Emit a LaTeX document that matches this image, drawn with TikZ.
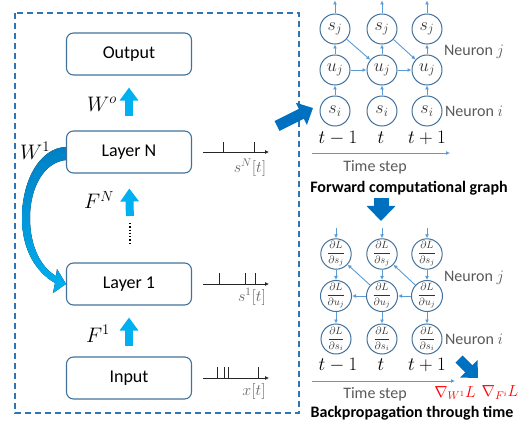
\documentclass[tikz,border=0pt]{standalone}
\usepackage{fix-cm}
\usepackage{amsmath}
\usepackage[no-math]{fontspec}
\setmainfont{Carlito}
\usepackage{tikz}
\usetikzlibrary{arrows.meta, calc}

\definecolor{boxline}{RGB}{65,113,156}
\definecolor{fatcyan}{RGB}{0,176,240}
\definecolor{curvetop}{RGB}{0,128,196}
\definecolor{deepblue}{RGB}{0,112,192}
\definecolor{dashblue}{RGB}{46,117,182}
\definecolor{edgeblue}{RGB}{91,155,213}

\begin{document}
\begin{tikzpicture}[x=1pt, y=-1pt, >={Latex[length=4pt, width=4pt]},
    layer/.style={draw=boxline, line width=1.1pt, rounded corners=7pt, minimum width=125pt, minimum height=42pt, inner sep=0pt, font=\fontsize{18}{20}\selectfont},
    fatarrow/.style={fatcyan, line width=8pt, -{Triangle[width=18pt, length=13pt]}},
    deeparrow/.style={deepblue, -{Triangle[width=24pt, length=13pt]}},
    neuron/.style={circle, draw=boxline, line width=1pt, minimum size=30pt, inner sep=0pt, text=black!80, font=\fontsize{18}{20}\selectfont},
    grad/.style={neuron, font=\fontsize{10.5}{12}\selectfont},
    edge/.style={edgeblue, line width=0.9pt, ->},
    spike/.style={black!85, line width=0.9pt},
    sig/.style={text=black!60, font=\fontsize{16}{18}\selectfont},
    tlabel/.style={font=\fontsize{19}{21}\selectfont},
    neulabel/.style={text=black!65, font=\fontsize{16}{18}\selectfont},
    wlabel/.style={font=\fontsize{21}{23}\selectfont}]
    \useasboundingbox (0,0) rectangle (520,425);

    % 1. Khung nét đứt và các lớp mạng
    \draw[dashblue, line width=1.1pt, dash pattern=on 6pt off 4pt] (15,13) rectangle (299,413);
    \node[layer] (output) at (129,54) {Output};
    \node[layer] (layerN) at (129,152) {Layer N};
    \node[layer] (layer1) at (129,284) {Layer 1};
    \node[layer] (input) at (129,378) {Input};

    % Mũi tên giữa các lớp
    \coordinate (dotstop) at (130,223);
    \coordinate (dotsbot) at (130,246);
    \draw[fatarrow, shorten <=14pt, shorten >=12pt] (layerN.north) -- (output.south);
    \draw[fatarrow, shorten <=7pt, shorten >=15pt] (dotstop) -- (layerN.south);
    \draw[fatarrow, shorten <=10pt, shorten >=12pt] (input.north) -- (layer1.south);
    \draw[dotted, line width=1.3pt] (dotstop) -- (dotsbot);
    \node[wlabel] at (102,104) {$W^o$};
    \node[wlabel] at (99,200) {$F^N$};
    \node[wlabel] at (98,334) {$F^1$};

    % Mũi tên cong W^1 (từ Layer N về Layer 1)
    \fill[top color=curvetop, bottom color=fatcyan]
        ([yshift=5pt]layerN.west) .. controls (40,148) and (22,180) .. (22,218)
        .. controls (22,250) and (36,272) .. (55,283)
        -- (53,293) -- (layer1.west) -- (57,269) -- (56,276)
        .. controls (42,268) and (30,248) .. (30,218)
        .. controls (30,186) and (45,162) .. ([yshift=-8pt]layerN.west) -- cycle;
    \node[wlabel] at (35,151) {$W^1$};

    % 2. Chuỗi xung
    \draw[spike, ->] ([xshift=11pt]layerN.east) -- ++(66,0);
    \foreach \sx in {223,254} \draw[spike] (\sx,152) -- (\sx,142);
    \node[sig] at (250,168) {$s^N[t]$};
    \draw[spike, ->] ([xshift=11pt]layer1.east) -- ++(66,0);
    \foreach \sx in {219,245,255} \draw[spike] (\sx,284) -- (\sx,273);
    \node[sig] at (252,297) {$s^1[t]$};
    \draw[spike, ->] ([xshift=11pt]input.east) -- ++(66,0);
    \foreach \sx in {217,224,228,258} \draw[spike] (\sx,378) -- (\sx,367);
    \node[sig] at (254,391) {$x[t]$};

    % 3. Đồ thị tính toán xuôi
    \foreach \c/\x in {1/335,2/382,3/427} {
        \node[neuron] (fsj\c) at (\x,29) {$s_j$};
        \node[neuron] (fuj\c) at (\x,70) {$u_j$};
        \node[neuron] (fsi\c) at (\x,111) {$s_i$};
        \draw[edge] (fsi\c) -- (fuj\c);
        \draw[edge] (fuj\c) -- (fsj\c);
        \draw[edge] (fsj\c.north) -- ++(0,-13);
    }
    \draw[edge] (fuj1) -- (fuj2);
    \draw[edge] (fuj2) -- (fuj3);
    \draw[edge] (fsj1) -- (fuj2);
    \draw[edge] (fsj2) -- (fuj3);
    \node[tlabel] at (338,138) {$t-1$};
    \node[tlabel] at (381,138) {$t$};
    \node[tlabel] at (427,138) {$t+1$};
    \draw[edge] (312,153) -- (450,153);
    \node[neulabel] at (474,52) {Neuron $j$};
    \node[neulabel] at (474,111) {Neuron $i$};
    \node[neulabel] at (375,167) {Time step};
    \node[font=\fontsize{16}{18}\selectfont\bfseries] at (409,188) {Forward computational graph};

    % Mũi tên xanh đậm
    \draw[deeparrow, line width=11pt] (277,126) -- (313,108);
    \draw[deeparrow, line width=15pt, -{Triangle[width=28pt, length=15pt]}] (381,198) -- (381,221);

    % 4. Lan truyền ngược theo thời gian
    \foreach \c/\x in {1/336,2/382,3/427} {
        \node[grad] (bsj\c) at (\x,254) {$\displaystyle\frac{\partial L}{\partial s_j}$};
        \node[grad] (buj\c) at (\x,296) {$\displaystyle\frac{\partial L}{\partial u_j}$};
        \node[grad] (bsi\c) at (\x,339) {$\displaystyle\frac{\partial L}{\partial s_i}$};
        \draw[edge] (\x,228) -- (bsj\c.north);
        \draw[edge] (bsj\c) -- (buj\c);
        \draw[edge] (buj\c) -- (bsi\c);
    }
    \draw[edge] (buj3) -- (buj2);
    \draw[edge] (buj2) -- (buj1);
    \draw[edge] (buj3) -- (bsj2);
    \draw[edge] (buj2) -- (bsj1);
    \node[tlabel] at (338,365) {$t-1$};
    \node[tlabel] at (381,365) {$t$};
    \node[tlabel] at (427,365) {$t+1$};
    \draw[edge] (312,381) -- (455,381);
    \node[neulabel] at (474,278) {Neuron $j$};
    \node[neulabel] at (474,339) {Neuron $i$};
    \node[neulabel] at (375,394) {Time step};
    \node[font=\fontsize{16}{18}\selectfont\bfseries] at (412,413) {Backpropagation through time};
    \draw[deeparrow, line width=10pt] (459,359) -- (478,378);
    \node[text=red, font=\fontsize{16}{18}\selectfont] at (455,393) {$\nabla_{W^1}L$};
    \node[text=red, font=\fontsize{16}{18}\selectfont] at (500,393) {$\nabla_{F^i}L$};

\end{tikzpicture}
\end{document}
